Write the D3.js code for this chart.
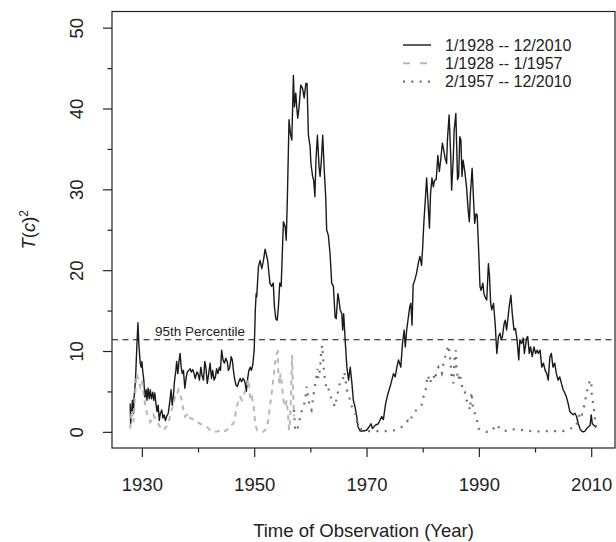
<!DOCTYPE html>
<html>
<head>
<meta charset="utf-8">
<style>
  body { margin: 0; background: #fff; }
  svg text { font-family: "Liberation Sans", Arial, Helvetica, sans-serif; fill: #222; }
</style>
</head>
<body>
<svg width="616" height="542"></svg>
<script src="https://cdnjs.cloudflare.com/ajax/libs/d3/7.8.5/d3.min.js"></script>
<script>
// series: [year, T(c)^2]
var fullSeries = [
  [1927.92,3.5],[1928.0,1.0],[1928.1,1.9],[1928.33,3.9],[1928.5,2.3],[1928.6,4.1],[1928.87,6.4],[1929.1,10.5],
  [1929.3,13.5],[1929.46,10.9],[1929.7,8.5],[1929.88,8.0],[1930.0,8.7],[1930.17,7.4],[1930.35,6.4],[1930.53,4.3],
  [1930.75,5.2],[1930.9,3.9],[1931.1,5.4],[1931.3,4.1],[1931.5,5.2],[1931.7,4.1],[1931.95,4.9],[1932.1,3.9],
  [1932.3,4.8],[1932.5,3.5],[1932.7,2.5],[1932.9,3.3],[1933.1,1.4],[1933.3,2.3],[1933.55,2.7],[1933.75,1.7],
  [1933.97,2.1],[1934.2,1.4],[1934.4,1.9],[1934.7,2.3],[1935.0,3.9],[1935.2,5.2],[1935.4,3.3],[1935.6,4.3],
  [1935.8,6.2],[1936.05,7.6],[1936.2,8.7],[1936.4,7.2],[1936.6,8.7],[1936.8,9.7],[1937.0,8.0],[1937.2,7.2],
  [1937.4,7.6],[1937.65,5.4],[1937.9,6.8],[1938.1,7.4],[1938.35,7.6],[1938.6,7.8],[1938.8,7.4],[1939.07,7.7],
  [1939.3,7.2],[1939.5,6.6],[1939.8,7.4],[1940.0,7.2],[1940.25,6.4],[1940.5,8.0],[1940.7,7.0],[1940.97,6.4],
  [1941.2,8.7],[1941.4,8.0],[1941.65,6.0],[1941.9,7.2],[1942.15,8.5],[1942.4,6.6],[1942.6,7.6],[1942.86,6.4],
  [1943.1,6.8],[1943.3,7.8],[1943.55,7.2],[1943.8,8.0],[1944.0,7.6],[1944.2,10.1],[1944.45,8.9],[1944.7,8.5],
  [1944.95,9.1],[1945.2,8.7],[1945.4,7.6],[1945.65,8.0],[1945.9,9.3],[1946.1,8.9],[1946.3,7.6],[1946.5,6.6],
  [1946.75,5.8],[1947.0,5.6],[1947.25,6.2],[1947.5,6.6],[1947.75,6.2],[1948.0,6.6],[1948.2,6.4],[1948.4,6.0],
  [1948.6,5.0],[1948.8,6.4],[1949.05,7.6],[1949.3,8.0],[1949.5,7.6],[1949.75,8.3],[1950.0,10.1],[1950.2,15.1],
  [1950.35,17.1],[1950.45,16.7],[1950.75,20.4],[1951.05,21.2],[1951.35,20.2],[1951.65,21.2],[1951.94,22.6],
  [1952.4,21.2],[1952.8,18.4],[1953.1,18.0],[1953.4,18.4],[1953.6,15.5],[1953.84,14.0],[1954.1,13.8],[1954.3,15.4],
  [1954.55,18.4],[1954.8,18.0],[1955.2,26.0],[1955.5,25.4],[1955.7,23.7],[1955.9,28.7],[1956.2,38.6],[1956.45,36.9],
  [1956.7,36.1],[1956.98,44.1],[1957.16,40.2],[1957.4,41.9],[1957.57,40.2],[1957.75,38.8],[1957.99,40.2],
  [1958.3,42.9],[1958.6,42.5],[1958.9,41.3],[1959.2,43.1],[1959.41,43.1],[1959.65,36.7],[1959.95,35.3],
  [1960.1,33.2],[1960.4,31.6],[1960.6,31.1],[1960.8,29.1],[1961.0,33.6],[1961.25,36.7],[1961.55,32.8],
  [1961.73,31.6],[1961.96,33.6],[1962.2,36.7],[1962.5,32.0],[1962.73,29.1],[1962.9,25.0],[1963.2,24.3],
  [1963.5,22.1],[1963.8,18.4],[1964.1,18.0],[1964.4,14.2],[1964.6,14.0],[1964.9,17.1],[1965.1,16.3],[1965.3,15.1],
  [1965.6,14.6],[1965.75,12.6],[1965.93,14.6],[1966.2,11.3],[1966.5,8.0],[1966.8,6.4],[1967.1,8.0],[1967.4,6.0],
  [1967.65,3.9],[1967.95,3.1],[1968.25,1.9],[1968.5,0.6],[1968.85,0.1],[1969.4,0.1],[1970.0,0.2],[1970.45,0.6],
  [1970.8,1.0],[1971.05,0.4],[1971.5,0.8],[1972.1,1.0],[1972.7,1.9],[1973.0,1.5],[1973.4,3.5],[1973.8,4.7],
  [1974.2,5.6],[1974.5,6.4],[1974.8,7.2],[1975.1,6.8],[1975.4,8.0],[1975.7,8.9],[1976.1,8.0],[1976.4,10.9],
  [1976.7,12.6],[1976.9,10.5],[1977.15,12.6],[1977.45,14.2],[1977.7,15.5],[1977.9,15.9],[1978.1,13.2],[1978.3,18.2],
  [1978.6,18.8],[1978.9,19.6],[1979.2,20.8],[1979.5,21.7],[1979.8,20.6],[1980.0,22.9],[1980.2,25.8],[1980.5,29.1],
  [1980.7,31.4],[1980.95,28.3],[1981.2,25.2],[1981.4,29.5],[1981.65,31.4],[1981.9,30.3],[1982.1,31.1],[1982.4,31.2],
  [1982.7,34.2],[1982.96,32.2],[1983.2,33.6],[1983.5,35.7],[1983.73,34.9],[1984.0,33.8],[1984.26,33.2],[1984.4,36.1],
  [1984.7,39.2],[1985.0,34.0],[1985.15,29.9],[1985.45,34.0],[1985.6,37.3],[1985.9,39.4],[1986.2,31.2],[1986.4,31.6],
  [1986.6,36.5],[1986.8,36.1],[1987.0,31.6],[1987.2,33.6],[1987.5,32.2],[1987.8,30.3],[1988.1,27.4],[1988.3,26.0],
  [1988.5,29.5],[1988.8,32.6],[1989.0,29.5],[1989.25,25.8],[1989.5,27.0],[1989.7,26.8],[1989.96,22.5],[1990.2,18.0],
  [1990.4,17.5],[1990.7,18.4],[1990.9,17.1],[1991.1,16.7],[1991.4,16.3],[1991.7,20.8],[1991.9,19.2],[1992.1,15.9],
  [1992.3,15.1],[1992.6,15.9],[1992.9,13.4],[1993.2,9.7],[1993.5,11.8],[1993.75,12.2],[1994.0,11.4],[1994.2,11.8],
  [1994.5,13.4],[1994.7,13.8],[1994.94,12.6],[1995.2,14.2],[1995.4,15.5],[1995.7,16.9],[1995.95,14.6],[1996.25,12.6],
  [1996.5,12.8],[1996.8,11.4],[1997.1,8.9],[1997.3,11.4],[1997.6,10.9],[1997.9,11.6],[1998.1,9.7],[1998.5,11.6],
  [1998.7,11.8],[1998.97,9.7],[1999.2,10.5],[1999.5,9.3],[1999.8,10.5],[2000.1,9.7],[2000.4,10.1],[2000.6,9.7],
  [2000.9,10.1],[2001.2,8.0],[2001.5,8.5],[2001.8,7.6],[2002.1,7.2],[2002.35,6.4],[2002.65,9.3],[2002.9,9.7],
  [2003.2,8.0],[2003.5,8.5],[2003.8,7.2],[2004.1,6.4],[2004.4,6.8],[2004.7,6.0],[2005.0,5.2],[2005.3,4.8],
  [2005.6,4.3],[2005.9,3.5],[2006.2,2.5],[2006.5,2.3],[2006.8,2.1],[2007.1,2.3],[2007.4,1.9],[2007.7,1.0],
  [2008.0,0.4],[2008.3,0.1],[2008.6,0.0],[2008.9,0.1],[2009.2,0.4],[2009.5,0.6],[2009.8,0.8],[2010.0,2.1],
  [2010.2,1.0],[2010.5,0.8],[2010.75,0.6],[2010.92,0.8]
];

var earlySeries = [
  [1927.92,0.4],[1928.2,2.7],[1928.5,1.2],[1928.8,4.7],[1929.1,7.2],[1929.4,6.4],[1929.7,5.6],[1930.0,6.4],
  [1930.3,4.7],[1930.6,3.3],[1930.9,2.3],[1931.2,1.7],[1931.5,1.2],[1932.07,2.1],[1932.7,1.2],[1933.26,0.6],
  [1933.85,0.2],[1934.1,0.4],[1934.7,1.0],[1935.0,1.9],[1935.3,2.7],[1935.6,3.3],[1935.9,4.3],[1936.2,4.3],
  [1936.5,5.2],[1936.8,4.7],[1937.1,3.9],[1937.4,2.7],[1937.7,1.9],[1938.0,2.1],[1938.3,2.3],[1938.6,1.7],
  [1939.5,1.4],[1939.8,1.2],[1940.4,1.0],[1941.0,0.8],[1941.6,0.6],[1942.15,0.2],[1942.75,0.0],[1943.3,0.0],
  [1943.9,0.2],[1944.5,0.0],[1945.1,0.2],[1945.7,0.8],[1946.3,1.0],[1946.6,1.9],[1946.9,3.1],[1947.2,3.9],
  [1947.5,4.3],[1947.8,3.9],[1948.1,4.3],[1948.4,5.2],[1948.7,5.6],[1949.0,6.5],[1949.3,3.9],[1949.6,4.3],
  [1949.9,3.1],[1950.2,1.0],[1950.5,0.2],[1951.05,0.0],[1951.6,0.0],[1952.2,0.4],[1952.5,1.4],[1952.8,3.1],
  [1953.1,4.7],[1953.4,6.4],[1953.7,8.5],[1954.0,9.7],[1954.2,9.9],[1954.3,7.2],[1954.5,6.0],[1954.7,7.2],
  [1954.9,6.0],[1955.2,3.9],[1955.5,3.1],[1955.8,3.9],[1956.0,2.3],[1956.2,0.2],[1956.4,1.4],[1956.6,5.6],
  [1956.75,9.5],[1956.9,5.6],[1957.08,1.9]
];

var lateSeries = [
  [1957.08,2.7],[1957.3,0.2],[1957.6,0.1],[1957.9,0.8],[1958.2,1.9],[1958.5,2.7],[1958.8,3.1],[1959.1,4.1],
  [1959.35,5.6],[1959.6,4.3],[1959.9,3.1],[1960.2,2.7],[1960.5,4.3],[1960.8,5.6],[1961.0,6.4],[1961.25,7.8],
  [1961.4,6.6],[1961.6,7.2],[1961.8,8.5],[1961.9,9.7],[1962.1,10.7],[1962.25,9.3],[1962.4,7.8],[1962.6,6.4],
  [1962.9,5.2],[1963.2,5.4],[1963.5,4.7],[1963.8,3.9],[1964.1,3.5],[1964.4,3.1],[1964.7,4.3],[1965.0,5.2],
  [1965.3,6.2],[1965.6,6.2],[1965.9,6.8],[1966.05,7.4],[1966.3,6.2],[1966.5,5.2],[1966.8,4.7],[1967.1,3.7],
  [1967.4,3.1],[1967.7,2.7],[1968.0,2.3],[1968.25,1.4],[1968.5,0.8],[1969.1,0.3],[1970.3,0.1],[1971.5,0.1],
  [1972.7,0.1],[1973.9,0.1],[1975.1,0.2],[1976.25,0.6],[1976.8,1.0],[1977.4,1.4],[1977.7,1.2],[1978.3,2.3],
  [1978.9,2.7],[1979.5,3.1],[1979.8,3.3],[1980.1,4.3],[1980.4,4.5],[1980.7,6.0],[1980.85,7.0],[1981.0,6.8],
  [1981.3,6.0],[1981.6,6.8],[1981.9,7.0],[1982.2,6.4],[1982.5,7.6],[1982.8,8.0],[1983.1,7.6],[1983.4,7.2],
  [1983.7,8.5],[1984.0,9.3],[1984.3,10.1],[1984.6,10.7],[1984.85,9.3],[1985.15,6.8],[1985.45,6.0],[1985.7,9.3],
  [1985.9,10.1],[1986.0,8.0],[1986.3,6.4],[1986.6,7.2],[1986.9,6.0],[1987.2,4.95],[1987.5,4.95],[1987.8,3.9],
  [1988.1,3.7],[1988.4,2.7],[1988.7,4.9],[1989.0,2.5],[1989.3,2.3],[1989.6,1.7],[1989.9,0.4],[1990.5,0.2],
  [1991.4,0.0],[1992.0,0.0],[1992.6,0.4],[1993.0,0.9],[1993.5,0.6],[1994.1,0.2],[1995.0,0.1],[1995.8,0.3],
  [1996.7,0.3],[1997.9,0.2],[1999.1,0.1],[2000.6,0.05],[2002.1,0.1],[2003.5,0.1],[2005.0,0.1],[2006.2,0.4],
  [2007.1,0.5],[2007.7,1.4],[2008.0,2.3],[2008.3,1.9],[2008.6,2.9],[2008.9,3.5],[2009.1,4.8],[2009.3,5.2],
  [2009.5,6.0],[2009.8,6.2],[2010.0,6.4],[2010.1,4.6],[2010.3,3.7],[2010.5,2.7],[2010.65,1.7],[2010.8,0.6],
  [2010.92,0.8]
];

var percentile95 = 11.4;
var xMajor = [1930, 1950, 1970, 1990, 2010];
var xMinor = [1940, 1960, 1980, 2000];
var yMajor = [0, 10, 20, 30, 40, 50];
var yMinor = [5, 15, 25, 35, 45];
var legendLabels = ['1/1928 -- 12/2010', '1/1928 -- 1/1957', '2/1957 -- 12/2010'];

var svg = d3.select('svg');
var box = {left: 112, right: 615, top: 11.5, bottom: 448};

// R style: data range plus 4% on each side
var xr = [1928, 2010.92];
var xpad = (xr[1] - xr[0]) * 0.04;
var x = d3.scaleLinear().domain([xr[0] - xpad, xr[1] + xpad]).range([box.left, box.right]);
var y = d3.scaleLinear().domain([-2, 52]).range([box.bottom, box.top]);

var line = d3.line()
    .x(function (d) { return x(d[0]); })
    .y(function (d) { return y(d[1]); });

// clip to plot region
svg.append('clipPath').attr('id', 'clip')
  .append('rect')
    .attr('x', box.left).attr('y', box.top)
    .attr('width', box.right - box.left).attr('height', box.bottom - box.top);

var plot = svg.append('g').attr('clip-path', 'url(#clip)');

plot.append('line')
    .attr('x1', box.left).attr('x2', box.right)
    .attr('y1', y(percentile95)).attr('y2', y(percentile95))
    .attr('stroke', '#111').attr('stroke-width', 1.1)
    .attr('stroke-dasharray', '6,4.5');

plot.append('path').datum(fullSeries)
    .attr('fill', 'none').attr('stroke', '#1a1a1a')
    .attr('stroke-width', 1.4).attr('stroke-linejoin', 'round')
    .attr('d', line);

plot.append('path').datum(earlySeries)
    .attr('fill', 'none').attr('stroke', '#b8b8b8')
    .attr('stroke-width', 2).attr('stroke-dasharray', '5,5')
    .attr('d', line);

plot.append('path').datum(lateSeries)
    .attr('fill', 'none').attr('stroke', '#707070')
    .attr('stroke-width', 2.2).attr('stroke-dasharray', '2,6.3')
    .attr('d', line);

svg.append('text')
    .attr('x', 155).attr('y', y(percentile95) - 3.5)
    .style('font-size', '13.5px')
    .text('95th Percentile');

// box
svg.append('rect')
    .attr('x', box.left).attr('y', box.top)
    .attr('width', box.right - box.left).attr('height', box.bottom - box.top)
    .attr('fill', 'none').attr('stroke', '#222').attr('stroke-width', 1.2);

// x axis
var xAxisG = svg.append('g').attr('transform', 'translate(0,' + box.bottom + ')');
xAxisG.call(d3.axisBottom(x).tickValues(xMajor).tickFormat(d3.format('d')).tickSizeInner(9).tickSizeOuter(0).tickPadding(21));
xAxisG.append('g').call(d3.axisBottom(x).tickValues(xMinor).tickFormat('').tickSizeInner(4.5).tickSizeOuter(0));
xAxisG.selectAll('.domain').remove();
xAxisG.selectAll('line').attr('stroke', '#222').attr('stroke-width', 1.2);
xAxisG.selectAll('text').style('font-size', '18.5px').style('font-family', '"Liberation Sans", Arial, sans-serif').attr('fill', '#222');

// y axis
var yAxisG = svg.append('g').attr('transform', 'translate(' + box.left + ',0)');
yAxisG.call(d3.axisLeft(y).tickValues(yMajor).tickSizeInner(9).tickSizeOuter(0));
yAxisG.append('g').call(d3.axisLeft(y).tickValues(yMinor).tickFormat('').tickSizeInner(4.5).tickSizeOuter(0));
yAxisG.selectAll('.domain').remove();
yAxisG.selectAll('line').attr('stroke', '#222').attr('stroke-width', 1.2);
yAxisG.selectAll('text')
    .attr('x', null).attr('dy', null)
    .attr('text-anchor', 'middle')
    .attr('transform', 'translate(-29,0) rotate(-90)')
    .style('font-size', '18.5px').style('font-family', '"Liberation Sans", Arial, sans-serif').attr('fill', '#222');

// axis titles
svg.append('text')
    .attr('x', (box.left + box.right) / 2).attr('y', 537)
    .attr('text-anchor', 'middle')
    .style('font-size', '18.5px')
    .text('Time of Observation (Year)');

var yTitle = svg.append('text')
    .attr('transform', 'translate(35,' + ((box.top + box.bottom) / 2) + ') rotate(-90)')
    .attr('text-anchor', 'middle')
    .style('font-size', '18.5px');
yTitle.append('tspan').style('font-style', 'italic').text('T');
yTitle.append('tspan').text('(');
yTitle.append('tspan').style('font-style', 'italic').text('c');
yTitle.append('tspan').text(')');
yTitle.append('tspan').attr('dy', '-0.55em').style('font-size', '12px').text('2');

// legend
var legendStyles = [
  {stroke: '#1a1a1a', width: 1.4, dash: null},
  {stroke: '#b8b8b8', width: 2, dash: '7,10'},
  {stroke: '#707070', width: 2.2, dash: '2,6.3'}
];
var legend = svg.append('g');
legendLabels.forEach(function (label, i) {
  var ly = 45 + i * 18.3;
  var s = legendStyles[i];
  legend.append('line')
      .attr('x1', 403).attr('x2', 431).attr('y1', ly).attr('y2', ly)
      .attr('stroke', s.stroke).attr('stroke-width', s.width)
      .attr('stroke-dasharray', s.dash);
  legend.append('text')
      .attr('x', 445).attr('y', ly + 5.5)
      .style('font-size', '16px')
      .text(label);
});
</script>
</body>
</html>
